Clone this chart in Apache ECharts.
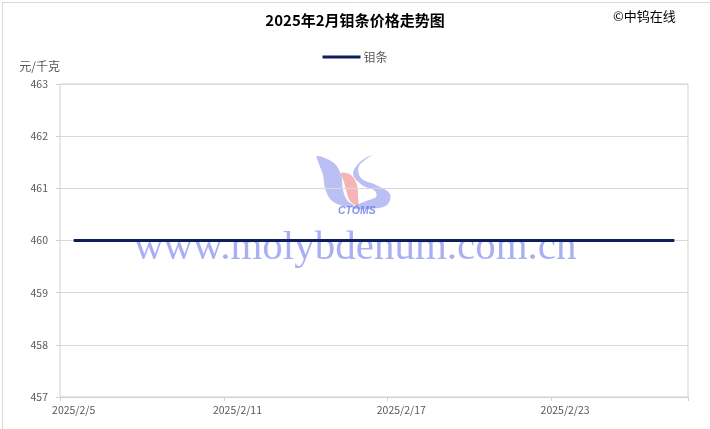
<!DOCTYPE html>
<html>
<head>
<meta charset="utf-8">
<script src="https://cdn.jsdelivr.net/npm/echarts@6/dist/echarts.min.js"></script>
<style>
html,body{margin:0;padding:0;background:#fff;}
#main{width:710px;height:429px;}
</style>
</head>
<body>
<div id="main"></div>
<script>
// 2025年2月 日期（2/5 - 2/27）
var dates = ['2025/2/5','2025/2/6','2025/2/7','2025/2/8','2025/2/9','2025/2/10',
	'2025/2/11','2025/2/12','2025/2/13','2025/2/14','2025/2/15','2025/2/16',
	'2025/2/17','2025/2/18','2025/2/19','2025/2/20','2025/2/21','2025/2/22',
	'2025/2/23','2025/2/24','2025/2/25','2025/2/26','2025/2/27'];
// 钼条价格 元/千克
var prices = [460,460,460,460,460,460,460,460,460,460,460,460,
	460,460,460,460,460,460,460,460,460,460,460];
var yMin = 457, yMax = 463, yStep = 1;

var cjk = '"Noto Sans CJK SC", "Liberation Sans", sans-serif';
var myChart = echarts.init(document.getElementById('main'));
var option = {
	backgroundColor: '#fff',
	animation: false,
	title: {
		text: '2025年2月钼条价格走势图',
		left: 'center',
		top: 8,
		textStyle: { fontFamily: cjk, fontSize: 15, fontWeight: 'bold', color: '#000' }
	},
	legend: {
		top: 46,
		left: 'center',
		itemWidth: 38,
		itemHeight: 3,
		itemGap: 4,
		icon: 'rect',
		textStyle: { fontFamily: cjk, fontSize: 12, color: '#595959', padding: [0,0,0,-2] },
		data: ['钼条']
	},
	grid: { left: 60, right: 22, top: 84, bottom: 32, show: true, borderColor: '#d0d0d0', borderWidth: 1 },
	xAxis: {
		type: 'category',
		data: dates,
		boundaryGap: true,
		axisLine: { lineStyle: { color: '#d0d0d0' } },
		axisTick: { show: true, interval: 5, length: 4, lineStyle: { color: '#d0d0d0' } },
		axisLabel: { interval: 5, color: '#595959', fontFamily: cjk, fontSize: 10.5, margin: 8 }
	},
	yAxis: {
		type: 'value',
		min: yMin,
		max: yMax,
		interval: yStep,
		name: '元/千克',
		nameLocation: 'end',
		nameGap: 12,
		nameTextStyle: { fontFamily: cjk, fontSize: 12, color: '#595959', align: 'right' },
		axisLine: { show: false },
		axisTick: { show: true, length: 4, lineStyle: { color: '#d0d0d0' } },
		axisLabel: { color: '#595959', fontFamily: cjk, fontSize: 10.5, margin: 12 },
		splitLine: { lineStyle: { color: '#d9d9d9' } }
	},
	graphic: [
		{ type: 'rect', left: 0, top: 0, z: 100, silent: true,
			shape: { x: 0, y: 0, width: 709, height: 428 },
			style: { fill: 'none', stroke: '#d9d9d9', lineWidth: 1 } },
		{ type: 'text', left: 613, top: 10,
			style: { text: '©中钨在线', font: '13px ' + cjk, fill: '#000' } },
		// CTOMS 标志
		{ type: 'polygon', z: 0, silent: true,
			shape: { smooth: 0.35, points: [[317,156],[334,163],[341,175],[343,190],[347,200],[354,206],[343,206],[331,200],[325,188],[323,175],[319,164]] },
			style: { fill: 'rgba(130,140,235,0.55)' } },
		{ type: 'polygon', z: 0, silent: true,
			shape: { smooth: 0.35, points: [[341,173],[351,175],[357,185],[358,197],[358,206],[350,201],[346,190],[344,182]] },
			style: { fill: 'rgba(240,130,130,0.6)' } },
		{ type: 'polygon', z: 0, silent: true,
			shape: { smooth: 0.35, points: [[372,155],[359,166],[361,178],[376,185],[390,194],[387,205],[370,209],[352,208],[366,201],[376,197],[375,191],[362,185],[353,174],[360,162]] },
			style: { fill: 'rgba(130,140,235,0.55)' } },
		{ type: 'text', left: 338, top: 206, z: 0, silent: true,
			style: { text: 'CTOMS', font: 'italic bold 10.5px "Liberation Sans", sans-serif', fill: 'rgba(110,120,230,0.8)' } },
		// 水印
		{ type: 'text', left: 134, top: 228, z: 0, silent: true,
			style: { text: 'www.molybdenum.com.cn', font: '41px "Liberation Serif", serif', fill: 'rgba(100,110,235,0.55)' } }
	],
	series: [{
		name: '钼条',
		type: 'line',
		data: prices,
		symbol: 'none',
		lineStyle: { color: '#0c1f5a', width: 3 },
		itemStyle: { color: '#0c1f5a' },
		z: 3
	}]
};
myChart.setOption(option);
</script>
</body>
</html>
